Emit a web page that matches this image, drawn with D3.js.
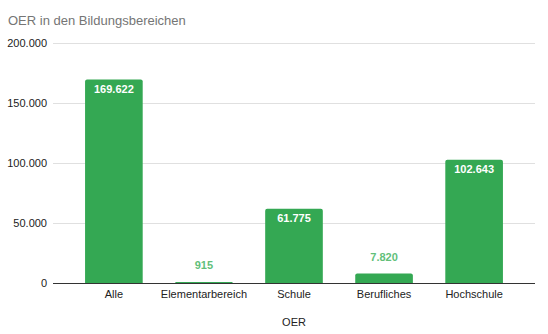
<!DOCTYPE html>
<html><head><meta charset="utf-8">
<script src="https://cdn.jsdelivr.net/npm/d3@7"></script>
<style>body{margin:0;background:#fff}svg{display:block}text{font-family:"Liberation Sans",Arial,sans-serif}</style>
</head><body><svg id="c" width="548" height="334"></svg>
<script>
const categories = ["Alle","Elementarbereich","Schule","Berufliches","Hochschule"];
const values = [169622, 915, 61775, 7820, 102643];
const yTicks = [0, 50000, 100000, 150000, 200000];
const title = "OER in den Bildungsbereichen";
const xTitle = "OER";

const svg = d3.select("#c");
const x = d3.scaleBand().domain(categories).range([53, 535]).paddingInner(0.36).paddingOuter(0.356);
const y = d3.scaleLinear().domain([0, 200000]).range([283, 43]);
const fmt = v => d3.format(",")(v).replace(/,/g, ".");

svg.append("text").attr("x", 8).attr("y", 25).attr("fill", "#757575").attr("font-size", 13).text(title);

// gridlines
svg.append("g").selectAll("line").data(yTicks.filter(d => d > 0)).join("line")
  .attr("x1", 53).attr("x2", 535).attr("y1", d => Math.round(y(d)) + 0.5).attr("y2", d => Math.round(y(d)) + 0.5)
  .attr("stroke", "#e0e0e0").attr("stroke-width", 1);

// y axis labels
const yAxis = d3.axisLeft(y).tickValues(yTicks).tickSize(0).tickPadding(0).tickFormat(fmt);
const ga = svg.append("g").attr("transform", "translate(47,0)").call(yAxis);
ga.select(".domain").remove();
ga.selectAll("text").attr("font-size", 11).attr("fill", "#222").attr("font-family", '"Liberation Sans",Arial,sans-serif');

// bars with rounded top
const r = 2;
svg.append("g").selectAll("path").data(values).join("path")
  .attr("fill", "#34a853")
  .attr("d", (d, i) => {
    const x0 = x(categories[i]), w = x.bandwidth(), y0 = y(d), y1 = y(0);
    const rr = Math.min(r, (y1 - y0));
    return `M${x0},${y1}V${y0 + rr}Q${x0},${y0} ${x0 + rr},${y0}H${x0 + w - rr}Q${x0 + w},${y0} ${x0 + w},${y0 + rr}V${y1}Z`;
  });

// baseline
svg.append("line").attr("x1", 53).attr("x2", 535).attr("y1", y(0) + 0.5).attr("y2", y(0) + 0.5)
  .attr("stroke", "#333").attr("stroke-width", 1);

// value labels
svg.append("g").selectAll("text").data(values).join("text")
  .attr("x", (d, i) => x(categories[i]) + x.bandwidth() / 2)
  .attr("y", d => (y(0) - y(d) > 25) ? y(d) + 13.5 : y(d) - 13)
  .attr("text-anchor", "middle")
  .attr("font-size", 11)
  .attr("font-weight", "bold")
  .attr("fill", d => (y(0) - y(d) > 25) ? "#fff" : "#62bf7a")
  .text(fmt);

// x axis labels
const xAxis = d3.axisBottom(x).tickSize(0).tickPadding(0);
const gx = svg.append("g").attr("transform", "translate(0,290)").call(xAxis);
gx.select(".domain").remove();
gx.selectAll("text").attr("font-size", 11).attr("fill", "#222").attr("dy", "0.71em").attr("font-family", '"Liberation Sans",Arial,sans-serif');

svg.append("text").attr("x", 294).attr("y", 326).attr("text-anchor", "middle").attr("font-size", 11).attr("fill", "#222").text(xTitle);
</script></body></html>
